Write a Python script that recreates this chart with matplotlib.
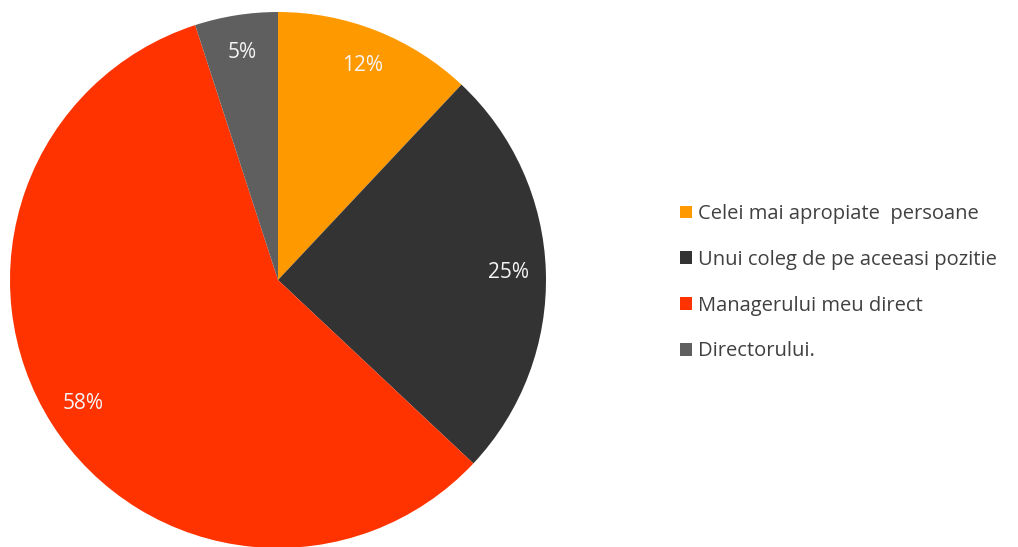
import matplotlib
matplotlib.use('Agg')
import matplotlib.pyplot as plt

# Data
categories = ['Celei mai apropiate  persoane', 'Unui coleg de pe aceeasi pozitie',
              'Managerului meu direct', 'Directorului.']
values = [12, 25, 58, 5]
colors = ['#FF9900', '#333333', '#FF3300', '#5F5F5F']

plt.rcParams['font.family'] = ['Open Sans', 'DejaVu Sans']

fig = plt.figure(figsize=(10.18, 5.47), dpi=100)
ax = fig.add_axes([10 / 1018, -1 / 547, 536 / 1018, 536 / 547])

wedges, texts, autotexts = ax.pie(values, colors=colors, startangle=90, counterclock=False,
                                  autopct='%1.0f%%', pctdistance=0.86, radius=1,
                                  textprops={'color': '#F5F5F5', 'fontsize': 15})
ax.set_xlim(-1, 1)
ax.set_ylim(-1, 1)
ax.set_aspect('equal')

fig.legend(wedges, categories, loc='center left', bbox_to_anchor=(0.65, 0.483),
           frameon=False, fontsize=14.5, labelspacing=1.28, handlelength=0.6,
           handleheight=0.6, handletextpad=0.3, labelcolor='#404040')

fig.savefig('out.png', dpi=100)
